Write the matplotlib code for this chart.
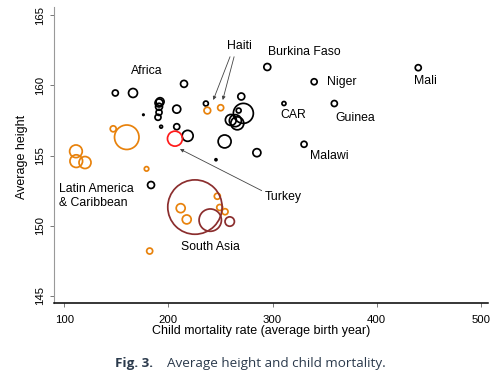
import matplotlib.pyplot as plt

plt.rcParams['font.family'] = ['Liberation Sans', 'DejaVu Sans']

# Africa (black)
africa_x = [149, 166, 215, 192, 191, 191, 191, 190, 176, 193, 208, 208, 218.5, 236,
            270, 272, 267.5, 260, 264.3, 266.2, 254, 245.7, 285, 295, 340, 311,
            359.4, 330.3, 440, 183.3]
africa_y = [159.45, 159.45, 160.1, 158.83, 158.74, 158.47, 158.07, 157.72, 157.9, 157.05,
            158.3, 157.05, 156.4, 158.7, 159.2, 158.0, 158.2, 157.53, 157.48, 157.29,
            156.0, 154.7, 155.2, 161.3, 160.25, 158.7, 158.7, 155.8, 161.25, 152.9]
africa_pop = [9, 20, 12, 16, 16, 12, 9, 9, 0.5, 2, 16, 9, 30, 6, 12, 100, 6, 30, 36, 42,
              42, 1, 16, 12, 9, 4, 9, 9, 9, 12]

# Latin America & Caribbean (orange)
latam_x = [111.2, 111.5, 119.9, 147, 160, 179, 182, 211.8, 217.6, 247, 249.3, 254.4, 237.4, 250.2]
latam_y = [155.3, 154.6, 154.5, 156.9, 156.3, 154.05, 148.2, 151.25, 150.45, 152.1, 151.3,
           151.0, 158.2, 158.4]
latam_pop = [40, 40, 36, 9, 150, 5, 9, 20, 20, 9, 9, 9, 11, 9]

# South Asia (maroon)
sasia_x = [225.5, 240.2, 258.9]
sasia_y = [151.33, 150.4, 150.3]
sasia_pop = [740, 125, 22]

# Turkey (red)
turkey_x = [206.3]
turkey_y = [156.2]
turkey_pop = [56]

fig = plt.figure(figsize=(5, 3.85), dpi=100)
ax = fig.add_axes([0.1086, 0.2122, 0.8674, 0.7696])

def size(p):
    return [2.07 * v for v in p]

ax.scatter(africa_x, africa_y, s=size(africa_pop), facecolors='none', edgecolors='black', linewidths=1.25)
ax.scatter(latam_x, latam_y, s=size(latam_pop), facecolors='none', edgecolors='#e8820c', linewidths=1.25)
ax.scatter(sasia_x, sasia_y, s=size(sasia_pop), facecolors='none', edgecolors='#8b2e2e', linewidths=1.25)
ax.scatter(turkey_x, turkey_y, s=size(turkey_pop), facecolors='none', edgecolors='#ff1a1a', linewidths=1.25)

ax.set_xlim(90.4, 507)
ax.set_ylim(144.48, 165.57)
ax.set_xticks([100, 200, 300, 400, 500])
ax.set_yticks([145, 150, 155, 160, 165])
ax.spines['top'].set_visible(False)
ax.spines['right'].set_visible(False)
ax.spines['left'].set_color('#999999')
ax.spines['bottom'].set_color('black')
ax.spines['bottom'].set_linewidth(1.1)
ax.tick_params(axis='x', length=3, width=0.7, color='#777777', pad=5.5, labelsize=8.2)
ax.tick_params(axis='y', length=3, width=0.7, color='#777777', pad=3.3, labelsize=8.2)
for lab in ax.get_yticklabels():
    lab.set_rotation(90)
    lab.set_va('center')

fig.text(260.8 / 500, 1 - 331 / 385, 'Child mortality rate (average birth year)',
         ha='center', va='center', fontsize=9)
fig.text(21.7 / 500, 1 - 157 / 385, 'Average height', rotation=90,
         ha='center', va='center', fontsize=9)

fs = 8.8
ax.text(179, 161.0, 'Africa', ha='center', va='center', fontsize=fs)
ax.text(268, 162.8, 'Haiti', ha='center', va='center', fontsize=fs)
ax.text(296, 162.35, 'Burkina Faso', ha='left', va='center', fontsize=fs)
ax.text(352, 160.25, 'Niger', ha='left', va='center', fontsize=fs)
ax.text(436.2, 160.3, 'Mali', ha='left', va='center', fontsize=fs)
ax.text(307.2, 157.9, 'CAR', ha='left', va='center', fontsize=fs)
ax.text(360, 157.65, 'Guinea', ha='left', va='center', fontsize=fs)
ax.text(336, 154.96, 'Malawi', ha='left', va='center', fontsize=fs)
ax.text(292.8, 152.07, 'Turkey', ha='left', va='center', fontsize=fs)
ax.text(95.2, 152.13, 'Latin America\n& Caribbean', ha='left', va='center', fontsize=fs,
        linespacing=1.15)
ax.text(240.6, 148.5, 'South Asia', ha='center', va='center', fontsize=fs)

arrow = dict(arrowstyle='-|>', color='#444444', lw=0.6, mutation_scale=5,
             shrinkA=0, shrinkB=0)
ax.annotate('', xy=(243.1, 158.95), xytext=(259.2, 162.03), arrowprops=arrow)
ax.annotate('', xy=(252.2, 158.95), xytext=(263.1, 162.03), arrowprops=arrow)
ax.annotate('', xy=(211.1, 155.46), xytext=(289.6, 152.5), arrowprops=arrow)

cap_color = '#2b3a4c'
fig.text(115 / 500, 1 - 363 / 385, 'Fig. 3.', ha='left', va='center', fontsize=9.7,
         fontweight='bold', color=cap_color, family='Open Sans')
fig.text(166.7 / 500, 1 - 363 / 385, 'Average height and child mortality.', ha='left',
         va='center', fontsize=9.7, color=cap_color, family='Open Sans')

fig.savefig('out.png', dpi=100)
